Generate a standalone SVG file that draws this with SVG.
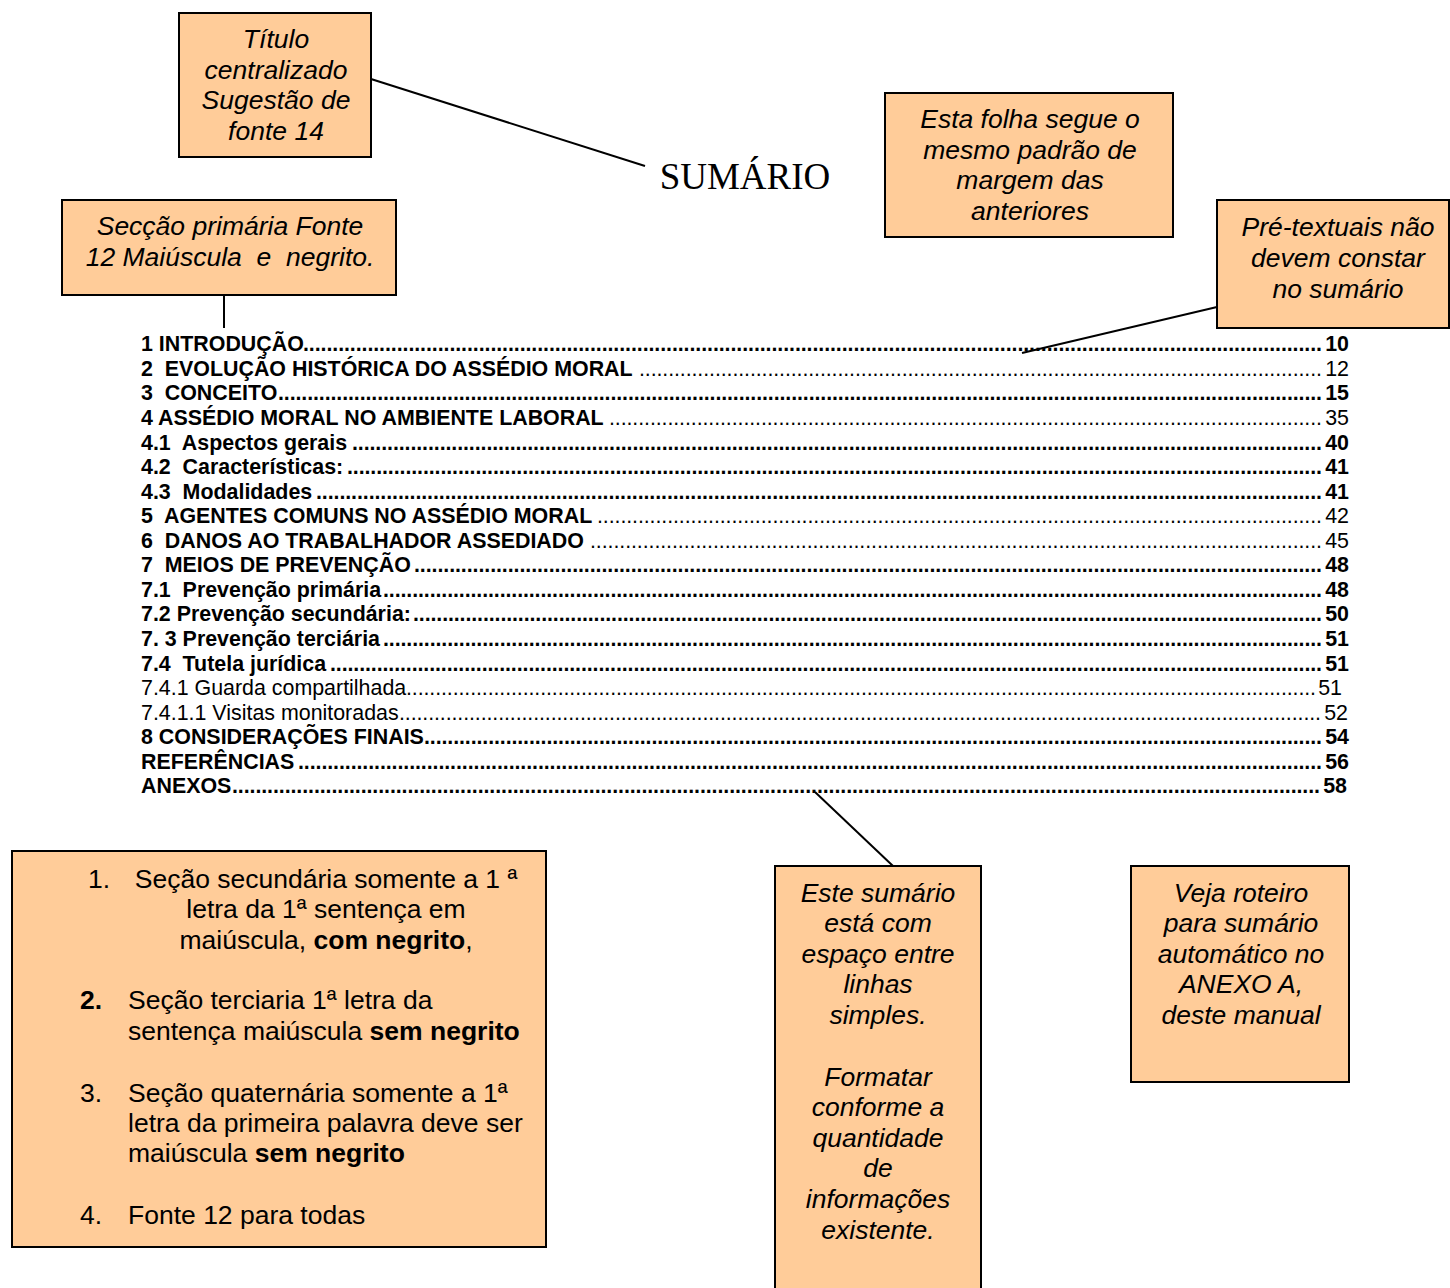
<svg xmlns="http://www.w3.org/2000/svg" width="1450" height="1288" viewBox="0 0 1450 1288">
<style>
.box{fill:#FFCC99;stroke:#000;stroke-width:2}
.note{font-family:"Liberation Sans",Arial,sans-serif;font-size:26.5px;font-style:italic;fill:#000;text-anchor:middle}
.list{font-family:"Liberation Sans",Arial,sans-serif;font-size:26.5px;fill:#000}
.toc{font-family:"Liberation Sans",Arial,sans-serif;font-size:21.4px;fill:#000}
.b{font-weight:bold}
.num{text-anchor:end}
.conn{stroke:#000;stroke-width:2;fill:none}
</style>
<rect width="1450" height="1288" fill="#fff"/>

<g id="connectors">
<line class="conn" x1="371" y1="79" x2="645" y2="166"/>
<line class="conn" x1="224" y1="296" x2="224" y2="328"/>
<line class="conn" x1="1217" y1="307" x2="1022" y2="353"/>
<line class="conn" x1="893" y1="866" x2="815" y2="792"/>
</g>

<g id="title">
<text x="745" y="189" style="font-family:'Liberation Serif','Times New Roman',serif;font-size:37px;text-anchor:middle">SUMÁRIO</text>
</g>

<g id="note-titulo">
<rect class="box" x="179" y="13" width="192" height="144"/>
<text class="note" x="276" y="48">Título</text>
<text class="note" x="276" y="79">centralizado</text>
<text class="note" x="276" y="109">Sugestão de</text>
<text class="note" x="276" y="140">fonte  14</text>
</g>

<g id="note-seccao">
<rect class="box" x="62" y="200" width="334" height="95"/>
<text class="note" x="230" y="235">Secção primária Fonte</text>
<text class="note" x="230" y="266" xml:space="preserve">12 Maiúscula  e  negrito.</text>
</g>

<g id="note-folha">
<rect class="box" x="885" y="93" width="288" height="144"/>
<text class="note" x="1030" y="128">Esta folha segue o</text>
<text class="note" x="1030" y="159">mesmo padrão de</text>
<text class="note" x="1030" y="189">margem das</text>
<text class="note" x="1030" y="220">anteriores</text>
</g>

<g id="note-pretextuais">
<rect class="box" x="1217" y="200" width="232" height="128"/>
<text class="note" x="1338" y="236">Pré-textuais não</text>
<text class="note" x="1338" y="267">devem constar</text>
<text class="note" x="1338" y="298">no sumário</text>
</g>

<g id="toc">
<text class="toc b" x="141" y="351">1 INTRODUÇÃO</text>
<text class="toc b" x="303" y="351" textLength="1019" lengthAdjust="spacing">..............................................................................................................................................................................</text>
<text class="toc b num" x="1349" y="351">10</text>

<text class="toc b" x="141" y="376" xml:space="preserve">2  EVOLUÇÃO HISTÓRICA DO ASSÉDIO MORAL</text>
<text class="toc" x="639" y="376" textLength="683" lengthAdjust="spacing">.....................................................................................................................</text>
<text class="toc num" x="1349" y="376">12</text>

<text class="toc b" x="141" y="400" xml:space="preserve">3  CONCEITO</text>
<text class="toc b" x="278" y="400" textLength="1044" lengthAdjust="spacing">...................................................................................................................................................................................</text>
<text class="toc b num" x="1349" y="400">15</text>

<text class="toc b" x="141" y="425">4 ASSÉDIO MORAL NO AMBIENTE LABORAL</text>
<text class="toc" x="609" y="425" textLength="713" lengthAdjust="spacing">..........................................................................................................................</text>
<text class="toc num" x="1349" y="425">35</text>

<text class="toc b" x="141" y="450" xml:space="preserve">4.1  Aspectos gerais</text>
<text class="toc b" x="352" y="450" textLength="970" lengthAdjust="spacing">......................................................................................................................................................................</text>
<text class="toc b num" x="1349" y="450">40</text>

<text class="toc b" x="141" y="474" xml:space="preserve">4.2  Características:</text>
<text class="toc b" x="347" y="474" textLength="975" lengthAdjust="spacing">.......................................................................................................................................................................</text>
<text class="toc b num" x="1349" y="474">41</text>

<text class="toc b" x="141" y="499" xml:space="preserve">4.3  Modalidades</text>
<text class="toc b" x="316" y="499" textLength="1006" lengthAdjust="spacing">............................................................................................................................................................................</text>
<text class="toc b num" x="1349" y="499">41</text>

<text class="toc b" x="141" y="523" xml:space="preserve">5  AGENTES COMUNS NO ASSÉDIO MORAL</text>
<text class="toc" x="597" y="523" textLength="725" lengthAdjust="spacing">............................................................................................................................</text>
<text class="toc num" x="1349" y="523">42</text>

<text class="toc b" x="141" y="548" xml:space="preserve">6  DANOS AO TRABALHADOR ASSEDIADO</text>
<text class="toc" x="590" y="548" textLength="732" lengthAdjust="spacing">.............................................................................................................................</text>
<text class="toc num" x="1349" y="548">45</text>

<text class="toc b" x="141" y="572" xml:space="preserve">7  MEIOS DE PREVENÇÃO</text>
<text class="toc b" x="414" y="572" textLength="908" lengthAdjust="spacing">...........................................................................................................................................................</text>
<text class="toc b num" x="1349" y="572">48</text>

<text class="toc b" x="141" y="597" xml:space="preserve">7.1  Prevenção primária</text>
<text class="toc b" x="383" y="597" textLength="939" lengthAdjust="spacing">.................................................................................................................................................................</text>
<text class="toc b num" x="1349" y="597">48</text>

<text class="toc b" x="141" y="621">7.2 Prevenção secundária:</text>
<text class="toc b" x="413" y="621" textLength="909" lengthAdjust="spacing">............................................................................................................................................................</text>
<text class="toc b num" x="1349" y="621">50</text>

<text class="toc b" x="141" y="646">7. 3 Prevenção terciária</text>
<text class="toc b" x="383" y="646" textLength="939" lengthAdjust="spacing">.................................................................................................................................................................</text>
<text class="toc b num" x="1349" y="646">51</text>

<text class="toc b" x="141" y="671" xml:space="preserve">7.4  Tutela jurídica</text>
<text class="toc b" x="330" y="671" textLength="992" lengthAdjust="spacing">..........................................................................................................................................................................</text>
<text class="toc b num" x="1349" y="671">51</text>

<text class="toc" x="141" y="695">7.4.1 Guarda compartilhada</text>
<text class="toc" x="406" y="695" textLength="910" lengthAdjust="spacing">............................................................................................................................................................</text>
<text class="toc num" x="1342" y="695">51</text>

<text class="toc" x="141" y="720">7.4.1.1 Visitas monitoradas</text>
<text class="toc" x="399" y="720" textLength="922" lengthAdjust="spacing">..............................................................................................................................................................</text>
<text class="toc num" x="1348" y="720">52</text>

<text class="toc b" x="141" y="744">8 CONSIDERAÇÕES FINAIS</text>
<text class="toc b" x="424" y="744" textLength="898" lengthAdjust="spacing">..........................................................................................................................................................</text>
<text class="toc b num" x="1349" y="744">54</text>

<text class="toc b" x="141" y="769">REFERÊNCIAS</text>
<text class="toc b" x="298" y="769" textLength="1024" lengthAdjust="spacing">...............................................................................................................................................................................</text>
<text class="toc b num" x="1349" y="769">56</text>

<text class="toc b" x="141" y="793">ANEXOS</text>
<text class="toc b" x="232" y="793" textLength="1088" lengthAdjust="spacing">..........................................................................................................................................................................................</text>
<text class="toc b num" x="1347" y="793">58</text>
</g>

<g id="note-regras">
<rect class="box" x="12" y="851" width="534" height="396"/>
<text class="list" x="88" y="888">1.</text>
<text class="list" x="326" y="888" text-anchor="middle">Seção secundária somente a 1 ª</text>
<text class="list" x="326" y="918" text-anchor="middle">letra da 1ª sentença em</text>
<text class="list" x="326" y="949" text-anchor="middle">maiúscula, <tspan class="b">com negrito</tspan>,</text>
<text class="list b" x="80" y="1009">2.</text>
<text class="list" x="128" y="1009">Seção terciaria 1ª letra da</text>
<text class="list" x="128" y="1040">sentença maiúscula <tspan class="b">sem negrito</tspan></text>
<text class="list" x="80" y="1102">3.</text>
<text class="list" x="128" y="1102">Seção quaternária somente a 1ª</text>
<text class="list" x="128" y="1132">letra da primeira palavra deve ser</text>
<text class="list" x="128" y="1162">maiúscula <tspan class="b">sem negrito</tspan></text>
<text class="list" x="80" y="1224">4.</text>
<text class="list" x="128" y="1224">Fonte 12 para todas</text>
</g>

<g id="note-espaco">
<rect class="box" x="775" y="866" width="206" height="430"/>
<text class="note" x="878" y="902">Este sumário</text>
<text class="note" x="878" y="932">está com</text>
<text class="note" x="878" y="963">espaço entre</text>
<text class="note" x="878" y="993">linhas</text>
<text class="note" x="878" y="1024">simples.</text>
<text class="note" x="878" y="1086">Formatar</text>
<text class="note" x="878" y="1116">conforme a</text>
<text class="note" x="878" y="1147">quantidade</text>
<text class="note" x="878" y="1177">de</text>
<text class="note" x="878" y="1208">informações</text>
<text class="note" x="878" y="1239">existente.</text>
</g>

<g id="note-anexo">
<rect class="box" x="1131" y="866" width="218" height="216"/>
<text class="note" x="1241" y="902">Veja roteiro</text>
<text class="note" x="1241" y="932">para sumário</text>
<text class="note" x="1241" y="963">automático no</text>
<text class="note" x="1241" y="993">ANEXO A,</text>
<text class="note" x="1241" y="1024">deste manual</text>
</g>
</svg>
